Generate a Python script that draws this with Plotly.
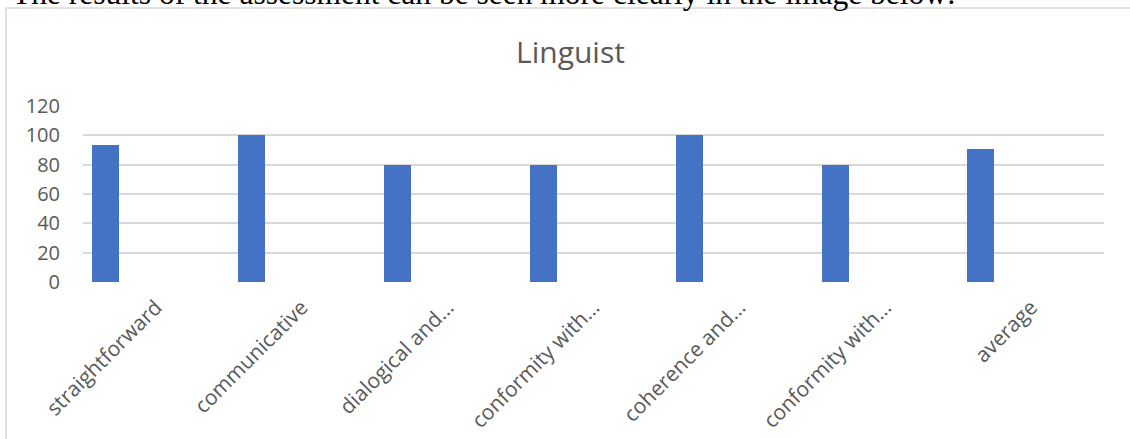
import plotly.graph_objects as go

categories = ["straightforward", "communicative", "dialogical and…", "conformity with…",
              "coherence and…", "conformity with…", "average"]
values = [93.3, 100, 80, 80, 100, 80, 90.7]
y_ticks = [0, 20, 40, 60, 80, 100, 120]
title_text = "Linguist"
caption = "The results of the assessment can be seen more clearly in the image below:"

W, H = 1130, 439
L, R, T, B = 83, 1104, 106, 282   # plot area in pixels
pw, ph = R - L, B - T

def px_x(p):
    return (p - L) / pw

def px_y(p):
    return (B - p) / ph

positions = list(range(len(categories)))

fig = go.Figure()
fig.add_trace(go.Bar(
    x=positions, y=values,
    width=0.185, offset=-0.436,
    marker=dict(color="#4472C4", line=dict(width=0)),
    hoverinfo="skip", showlegend=False,
))

grey = "#595959"
fig.update_layout(
    width=W, height=H,
    margin=dict(l=L, r=W - R, t=T, b=H - B, pad=0, autoexpand=False),
    paper_bgcolor="white", plot_bgcolor="white",
    font=dict(family="Open Sans", color=grey),
    title=dict(text=title_text, x=570.5 / W, xanchor="center",
               y=1 - 52 / H, yanchor="middle", yref="container",
               font=dict(size=30, color=grey, family="Open Sans")),
    bargap=0,
    xaxis=dict(range=[-0.5, len(categories) - 0.5], tickvals=positions,
               ticktext=categories, tickangle=-45, showgrid=False,
               zeroline=False, showline=False, ticks="", automargin=False,
               tickfont=dict(size=21, color=grey), ticklabelstandoff=8),
    yaxis=dict(range=[0, 120], tickvals=y_ticks, showgrid=True,
               gridcolor="#d9d9d9", gridwidth=1.6, zeroline=False,
               showline=False, ticks="", automargin=False,
               tickfont=dict(size=20, color=grey), ticklabelstandoff=22),
)

# chart frame (Word-style border, partly outside the visible window)
fig.add_shape(type="rect", xref="paper", yref="paper",
              x0=px_x(6), x1=px_x(1140), y0=px_y(460), y1=px_y(8),
              line=dict(color="#d9d9d9", width=1.6), fillcolor="rgba(0,0,0,0)",
              layer="below")

# cut-off document text above the chart
fig.add_annotation(text=caption, xref="paper", yref="paper",
                   x=px_x(10), y=px_y(-6), xanchor="left", yanchor="middle",
                   showarrow=False,
                   font=dict(family="Liberation Serif", size=31.5, color="black"))

fig.write_html("out.html")
